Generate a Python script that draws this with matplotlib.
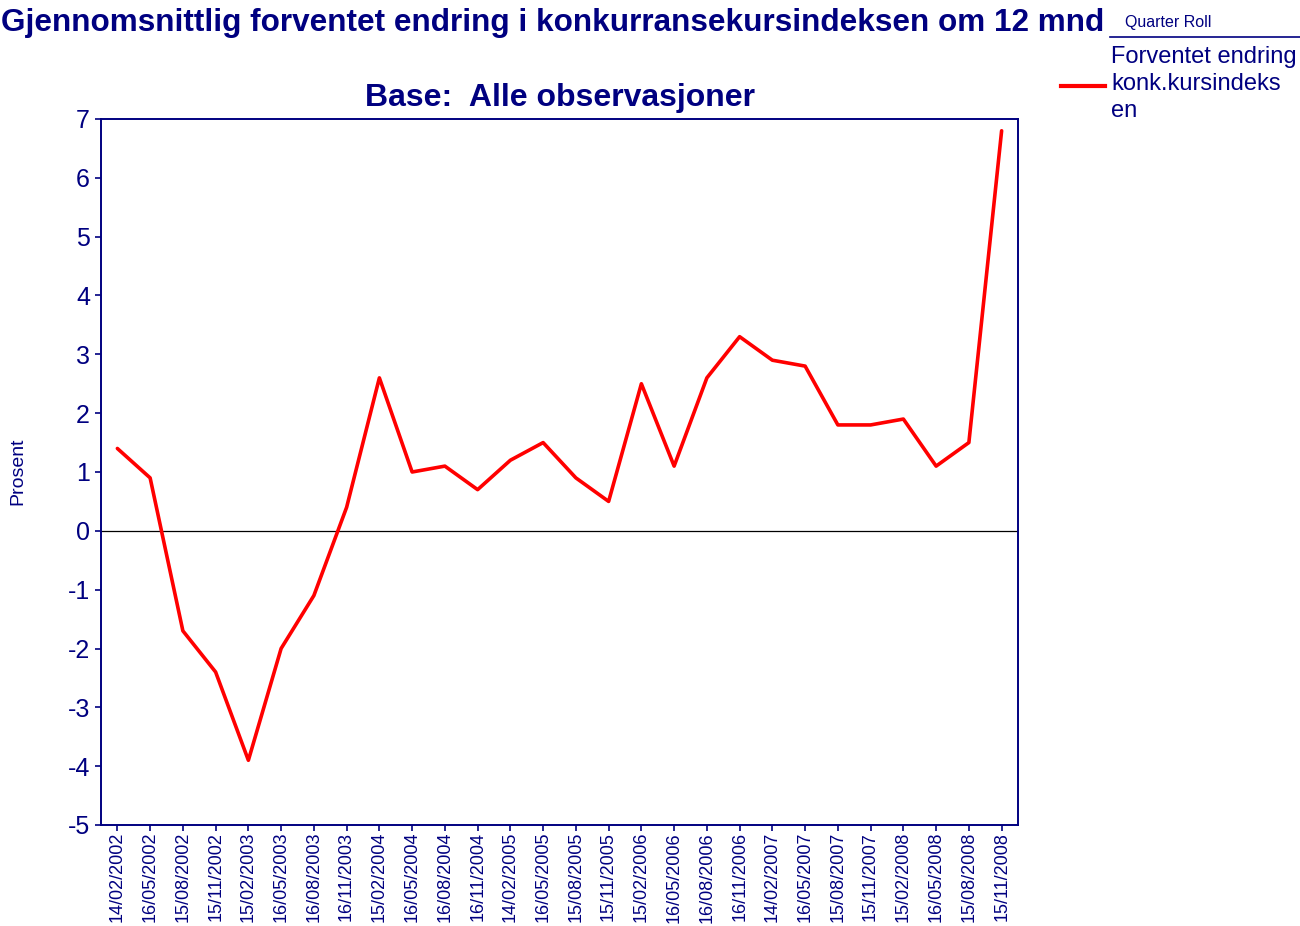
import matplotlib
matplotlib.use("Agg")
import matplotlib.pyplot as plt
import numpy as np

plt.rcParams['font.family'] = ['Liberation Sans', 'DejaVu Sans']

dates = ["14/02/2002", "16/05/2002", "15/08/2002", "15/11/2002", "15/02/2003",
         "16/05/2003", "16/08/2003", "16/11/2003", "15/02/2004", "16/05/2004",
         "16/08/2004", "16/11/2004", "14/02/2005", "16/05/2005", "15/08/2005",
         "15/11/2005", "15/02/2006", "16/05/2006", "16/08/2006", "16/11/2006",
         "14/02/2007", "16/05/2007", "15/08/2007", "15/11/2007", "15/02/2008",
         "16/05/2008", "15/08/2008", "15/11/2008"]
values = [1.4, 0.9, -1.7, -2.4, -3.9, -2.0, -1.1, 0.4, 2.6, 1.0,
          1.1, 0.7, 1.2, 1.5, 0.9, 0.5, 2.5, 1.1, 2.6, 3.3,
          2.9, 2.8, 1.8, 1.8, 1.9, 1.1, 1.5, 6.8]
y_ticks = [-5, -4, -3, -2, -1, 0, 1, 2, 3, 4, 5, 6, 7]

navy = "#000080"
W, H = 1300, 926
fig = plt.figure(figsize=(W / 100, H / 100), dpi=100)
ax = fig.add_axes([101 / W, 1 - 825 / H, (1018 - 101) / W, (825 - 119) / H])

x = np.arange(len(dates))
ax.plot(x, values, color="#ff0000", lw=2.6, solid_capstyle="round", solid_joinstyle="round",
        zorder=3, clip_on=False)
ax.axhline(0, color="black", lw=0.9, zorder=2)

ax.set_xlim(-0.5, len(dates) - 0.5)
ax.set_ylim(-5, 7)
ax.set_yticks(y_ticks)
ax.set_yticklabels([str(v) for v in y_ticks], fontsize=18, color=navy)
ax.set_xticks(x)
ax.set_xticklabels(dates, rotation=90, fontsize=13, color=navy)
ax.tick_params(axis="both", direction="out", length=4, width=1.2, color=navy)
ax.tick_params(axis="x", pad=1)
ax.tick_params(axis="y", pad=4)
for s in ax.spines.values():
    s.set_color(navy)
    s.set_linewidth(1.4)

fig.text(18 / W, 1 - 471 / H, "Prosent", rotation=90, ha="center", va="center",
         fontsize=14, color=navy)

fig.text(1 / W, 1 - 23 / H, "Gjennomsnittlig forventet endring i konkurransekursindeksen om 12 mnd",
         ha="left", va="center", fontsize=22.7, fontweight="bold", color=navy)
fig.text(560 / W, 1 - 98 / H, "Base:  Alle observasjoner", ha="center", va="center",
         fontsize=23, fontweight="bold", color=navy)

# legend
fig.text(1125 / W, 1 - 22 / H, "Quarter Roll", ha="left", va="center", fontsize=11.5, color=navy)
fig.add_artist(plt.Line2D([1110 / W, 1300 / W], [1 - 37 / H, 1 - 37 / H], color=navy, lw=1.2))
fig.add_artist(plt.Line2D([1061 / W, 1105 / W], [1 - 86 / H, 1 - 86 / H], color="#ff0000", lw=3))
fig.text(1111 / W, 1 - 84 / H, "Forventet endring\nkonk.kursindeks\nen", ha="left", va="center",
         fontsize=17, color=navy, linespacing=1.3)

fig.savefig("out.png", dpi=100)
